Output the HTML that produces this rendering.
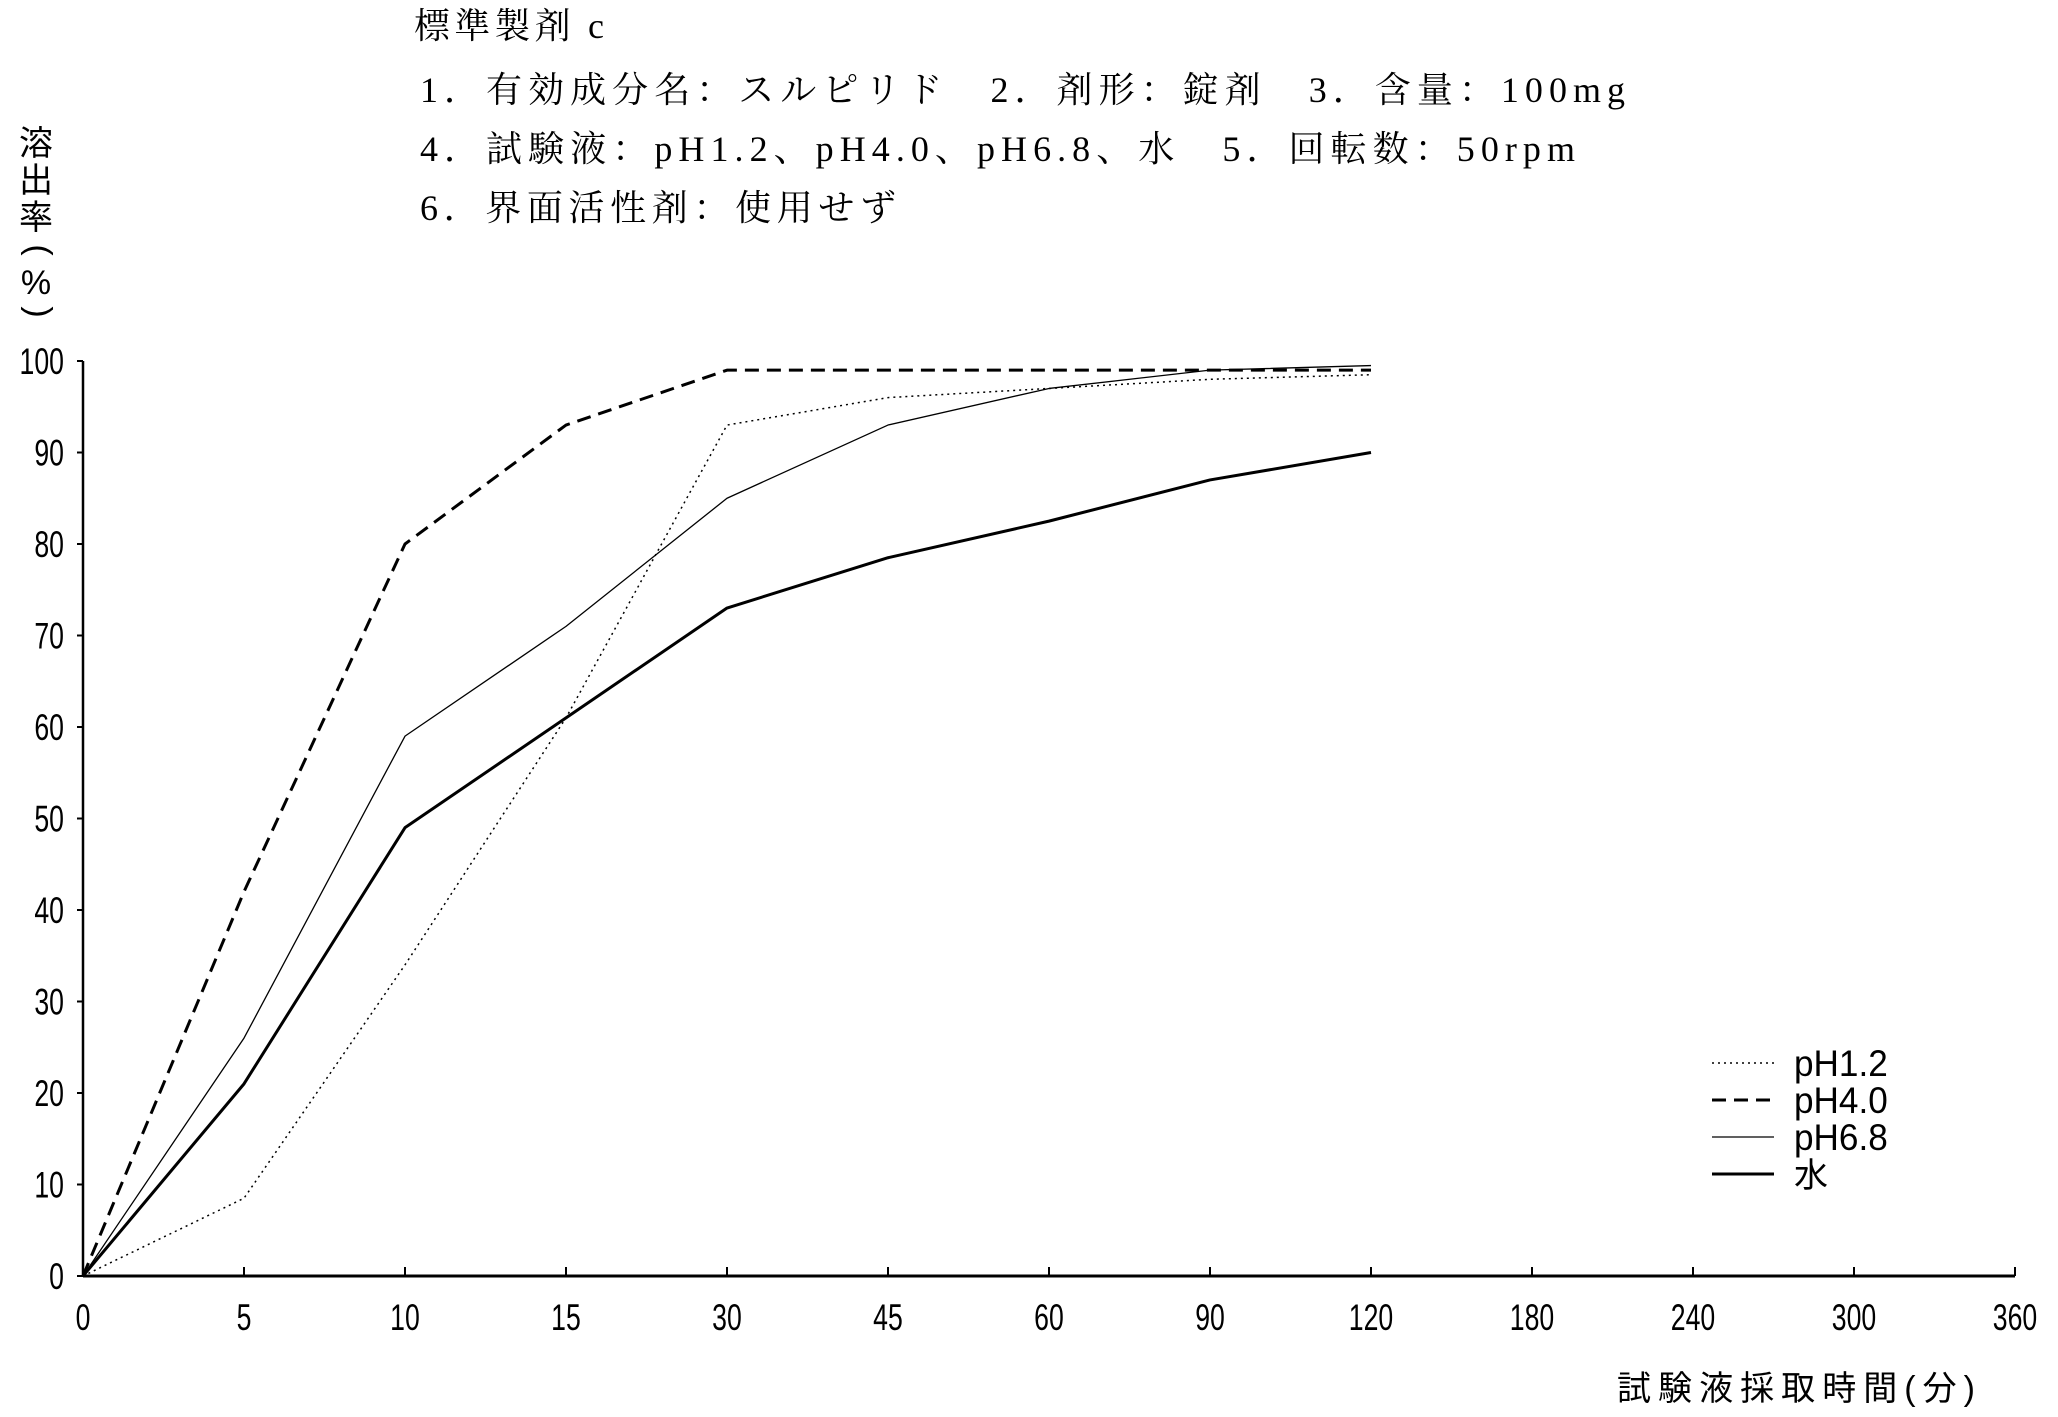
<!DOCTYPE html>
<html><head><meta charset="utf-8"><style>
html,body{margin:0;padding:0;background:#fff;}
svg{display:block;}
.t{font-family:"Liberation Serif","Noto Serif CJK SC","Noto Sans CJK JP",serif;font-size:36px;fill:#000;}
.n{font-family:"Liberation Sans",sans-serif;font-size:37px;fill:#000;}
.j{font-family:"Liberation Sans","Noto Sans CJK JP",sans-serif;font-size:34px;fill:#000;}
</style></head><body>
<svg id="chart" width="2058" height="1417" viewBox="0 0 2058 1417">
<g>
<text class="t" x="414" y="38" textLength="190" lengthAdjust="spacing">標準製剤 c</text>
<text class="t" x="420" y="102" textLength="1205" lengthAdjust="spacing">1．有効成分名：スルピリド　2．剤形：錠剤　3．含量：100mg</text>
<text class="t" x="420" y="161" textLength="1155" lengthAdjust="spacing">4．試験液：pH1.2、pH4.0、pH6.8、水　5．回転数：50rpm</text>
<text class="t" x="420" y="220" textLength="476" lengthAdjust="spacing">6．界面活性剤：使用せず</text>
</g>
<g>
<text class="j" x="36" y="155" text-anchor="middle">溶</text>
<text class="j" x="36" y="192" text-anchor="middle">出</text>
<text class="j" x="36" y="229" text-anchor="middle">率</text>
<text class="j" x="36" y="258" text-anchor="middle" transform="rotate(90 36 250)">(</text>
<text class="j" x="36" y="294" text-anchor="middle">%</text>
<text class="j" x="36" y="320" text-anchor="middle" transform="rotate(90 36 312)">)</text>
</g>
<text class="j" x="1617" y="1400" textLength="358" lengthAdjust="spacing">試験液採取時間(分)</text>
<g id="axes"></g>
<g id="series"></g>
<g id="legend"></g>
</svg>
<script>
const categories = ["0","5","10","15","30","45","60","90","120","180","240","300","360"];
const yTicks = [0,10,20,30,40,50,60,70,80,90,100];
const seriesNames = ["pH1.2","pH4.0","pH6.8","水"];
const ph12 = [0, 8.5, 34, 61, 93, 96, 97, 98, 98.5];
const ph40 = [0, 42, 80, 93, 99, 99, 99, 99, 99];
const ph68 = [0, 26, 59, 71, 85, 93, 97, 99, 99.5];
const water = [0, 21, 49, 61, 73, 78.5, 82.5, 87, 90];

const NS = "http://www.w3.org/2000/svg";
const x0 = 83, xStep = 161, y0 = 1276, yTop = 361;
function xs(i){ return x0 + i * xStep; }
function ys(v){ return y0 - (v / 100) * (y0 - yTop); }
function mk(tag, attrs, parent){ const e = document.createElementNS(NS, tag); for (const k in attrs) e.setAttribute(k, attrs[k]); parent.appendChild(e); return e; }

const axes = document.getElementById('axes');
const xl = mk('line', {x1: x0, y1: y0, x2: xs(categories.length - 1), y2: y0, stroke: '#000', 'stroke-width': 3}, axes);


const yl = mk('line', {x1: x0, y1: y0, x2: x0, y2: yTop, stroke: '#000', 'stroke-width': 2.5}, axes);


categories.forEach((c, i) => {
  mk('line', {x1: xs(i), y1: y0, x2: xs(i), y2: y0 - 9, stroke: '#000', 'stroke-width': 2}, axes);
  const t = mk('text', {class: 'n', x: xs(i), y: 1330, 'text-anchor': 'middle', transform: `translate(${xs(i)},0) scale(0.72,1) translate(${-xs(i)},0)`}, axes);
  t.textContent = c;
  
  
});
yTicks.forEach(v => {
  mk('line', {x1: x0 - 6, y1: ys(v), x2: x0, y2: ys(v), stroke: '#000', 'stroke-width': 2}, axes);
  const t = mk('text', {class: 'n', x: 64, y: ys(v) + 13, 'text-anchor': 'end', transform: `translate(64,0) scale(0.72,1) translate(-64,0)`}, axes);
  t.textContent = v;
  
  
});

const styles = [
  {w: 1.5, dash: '2,4'},
  {w: 3, dash: '14,8'},
  {w: 1.3, dash: ''},
  {w: 3, dash: ''}
];
const allData = [ph12, ph40, ph68, water];
const names = ['line-ph1-2', 'line-ph4-0', 'line-ph6-8', 'line-water'];
const sg = document.getElementById('series');
allData.forEach((d, s) => {
  const pts = d.map((v, i) => xs(i) + ',' + ys(v)).join(' ');
  const p = mk('polyline', {points: pts, fill: 'none', stroke: '#000', 'stroke-width': styles[s].w, 'stroke-dasharray': styles[s].dash, 'stroke-linejoin': 'round'}, sg);
  
  
});

const lg = document.getElementById('legend');


const ly = [1063, 1100, 1137, 1174];
seriesNames.forEach((n, s) => {
  const l = mk('line', {x1: 1712, y1: ly[s], x2: 1774, y2: ly[s], stroke: '#000', 'stroke-width': styles[s].w, 'stroke-dasharray': styles[s].dash}, lg);
  
  
  const t = mk('text', {class: s === 3 ? 'j' : 'n', x: 1794, y: ly[s] + 13, transform: s === 3 ? '' : 'translate(1794,0) scale(0.95,1) translate(-1794,0)'}, lg);
  t.textContent = n;
  
  
});
</script>
</body></html>
